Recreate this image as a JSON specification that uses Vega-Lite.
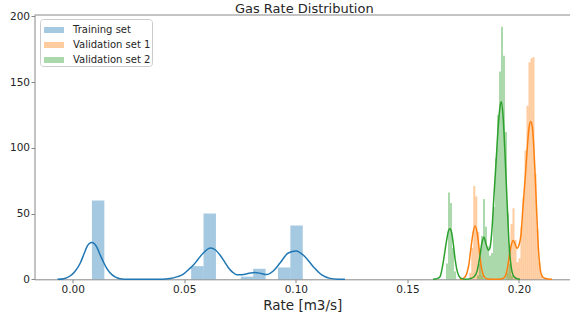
{
  "$schema": "https://vega.github.io/schema/vega-lite/v6.json",
  "width": 535.5,
  "height": 264.3,
  "autosize": {"type": "none"},
  "padding": {"left": 34.5, "top": 15, "right": 0, "bottom": 40.7},
  "background": "white",
  "title": {"text": "Gas Rate Distribution", "fontSize": 13, "font": "DejaVu Sans", "fontWeight": "normal", "color": "#262626", "anchor": "middle", "frame": "group", "baseline": "alphabetic", "offset": 0, "dx": 2, "dy": 15},
  "config": {
    "view": {"stroke": null},
    "axis": {"labelFont": "DejaVu Sans", "labelFontSize": 10.5, "labelColor": "#262626", "tickColor": "#888888", "domainColor": "#888888", "tickSize": 3.5, "labelPadding": 1.5, "grid": false, "domainWidth": 1, "tickWidth": 1}
  },
  "datasets": {
    "hist": [
      {"s": "Training set", "x0": 0.00862, "x1": 0.01418, "d": 60},
      {"s": "Training set", "x0": 0.05308, "x1": 0.05864, "d": 10},
      {"s": "Training set", "x0": 0.05864, "x1": 0.06419, "d": 50},
      {"s": "Training set", "x0": 0.07531, "x1": 0.08087, "d": 2},
      {"s": "Training set", "x0": 0.08087, "x1": 0.08643, "d": 8},
      {"s": "Training set", "x0": 0.09198, "x1": 0.09754, "d": 9},
      {"s": "Training set", "x0": 0.09754, "x1": 0.10310, "d": 41},
      {"s": "Validation set 1", "x0": 0.17773, "x1": 0.17862, "d": 5},
      {"s": "Validation set 1", "x0": 0.17862, "x1": 0.17952, "d": 24},
      {"s": "Validation set 1", "x0": 0.17952, "x1": 0.18042, "d": 71},
      {"s": "Validation set 1", "x0": 0.18042, "x1": 0.18131, "d": 63},
      {"s": "Validation set 1", "x0": 0.18131, "x1": 0.18221, "d": 36},
      {"s": "Validation set 1", "x0": 0.18221, "x1": 0.18310, "d": 12},
      {"s": "Validation set 1", "x0": 0.18310, "x1": 0.18400, "d": 3},
      {"s": "Validation set 1", "x0": 0.19440, "x1": 0.19530, "d": 5},
      {"s": "Validation set 1", "x0": 0.19530, "x1": 0.19619, "d": 22},
      {"s": "Validation set 1", "x0": 0.19619, "x1": 0.19709, "d": 42},
      {"s": "Validation set 1", "x0": 0.19709, "x1": 0.19798, "d": 54},
      {"s": "Validation set 1", "x0": 0.19798, "x1": 0.19888, "d": 30},
      {"s": "Validation set 1", "x0": 0.19888, "x1": 0.19978, "d": 13},
      {"s": "Validation set 1", "x0": 0.19978, "x1": 0.20067, "d": 16},
      {"s": "Validation set 1", "x0": 0.20067, "x1": 0.20157, "d": 40},
      {"s": "Validation set 1", "x0": 0.20157, "x1": 0.20246, "d": 62},
      {"s": "Validation set 1", "x0": 0.20246, "x1": 0.20336, "d": 98},
      {"s": "Validation set 1", "x0": 0.20336, "x1": 0.20426, "d": 132},
      {"s": "Validation set 1", "x0": 0.20426, "x1": 0.20515, "d": 165},
      {"s": "Validation set 1", "x0": 0.20515, "x1": 0.20605, "d": 168},
      {"s": "Validation set 1", "x0": 0.20605, "x1": 0.20694, "d": 169},
      {"s": "Validation set 1", "x0": 0.20694, "x1": 0.20784, "d": 80},
      {"s": "Validation set 1", "x0": 0.20784, "x1": 0.20873, "d": 38},
      {"s": "Validation set 1", "x0": 0.20873, "x1": 0.20963, "d": 13},
      {"s": "Validation set 1", "x0": 0.20963, "x1": 0.21052, "d": 3},
      {"s": "Validation set 2", "x0": 0.16729, "x1": 0.16819, "d": 12},
      {"s": "Validation set 2", "x0": 0.16819, "x1": 0.16908, "d": 66},
      {"s": "Validation set 2", "x0": 0.16908, "x1": 0.16998, "d": 58},
      {"s": "Validation set 2", "x0": 0.16998, "x1": 0.17087, "d": 24},
      {"s": "Validation set 2", "x0": 0.17087, "x1": 0.17177, "d": 6},
      {"s": "Validation set 2", "x0": 0.18118, "x1": 0.18207, "d": 3},
      {"s": "Validation set 2", "x0": 0.18207, "x1": 0.18297, "d": 12},
      {"s": "Validation set 2", "x0": 0.18297, "x1": 0.18387, "d": 33},
      {"s": "Validation set 2", "x0": 0.18387, "x1": 0.18476, "d": 61},
      {"s": "Validation set 2", "x0": 0.18476, "x1": 0.18566, "d": 40},
      {"s": "Validation set 2", "x0": 0.18566, "x1": 0.18655, "d": 25},
      {"s": "Validation set 2", "x0": 0.18655, "x1": 0.18745, "d": 18},
      {"s": "Validation set 2", "x0": 0.18745, "x1": 0.18835, "d": 20},
      {"s": "Validation set 2", "x0": 0.18835, "x1": 0.18924, "d": 55},
      {"s": "Validation set 2", "x0": 0.18924, "x1": 0.19014, "d": 92},
      {"s": "Validation set 2", "x0": 0.19014, "x1": 0.19104, "d": 125},
      {"s": "Validation set 2", "x0": 0.19104, "x1": 0.19193, "d": 158},
      {"s": "Validation set 2", "x0": 0.19193, "x1": 0.19283, "d": 192},
      {"s": "Validation set 2", "x0": 0.19283, "x1": 0.19373, "d": 170},
      {"s": "Validation set 2", "x0": 0.19373, "x1": 0.19462, "d": 112},
      {"s": "Validation set 2", "x0": 0.19462, "x1": 0.19552, "d": 50},
      {"s": "Validation set 2", "x0": 0.19552, "x1": 0.19641, "d": 12},
      {"s": "Validation set 2", "x0": 0.19641, "x1": 0.19731, "d": 3}
    ],
    "kde": [
      {"s": "Training set", "x": -0.0068, "d": 0},
      {"s": "Training set", "x": -0.0040, "d": 0.5},
      {"s": "Training set", "x": -0.0012, "d": 2.5},
      {"s": "Training set", "x": 0.0010, "d": 6},
      {"s": "Training set", "x": 0.0033, "d": 12},
      {"s": "Training set", "x": 0.0050, "d": 19},
      {"s": "Training set", "x": 0.0063, "d": 24.5},
      {"s": "Training set", "x": 0.0085, "d": 28},
      {"s": "Training set", "x": 0.0108, "d": 24.5},
      {"s": "Training set", "x": 0.0122, "d": 19},
      {"s": "Training set", "x": 0.0137, "d": 13.4},
      {"s": "Training set", "x": 0.0152, "d": 8.5},
      {"s": "Training set", "x": 0.0167, "d": 5},
      {"s": "Training set", "x": 0.0190, "d": 1.8},
      {"s": "Training set", "x": 0.0212, "d": 0.5},
      {"s": "Training set", "x": 0.0250, "d": 0.05},
      {"s": "Training set", "x": 0.0300, "d": 0},
      {"s": "Training set", "x": 0.0400, "d": 0},
      {"s": "Training set", "x": 0.0437, "d": 0.6},
      {"s": "Training set", "x": 0.0470, "d": 2},
      {"s": "Training set", "x": 0.0496, "d": 4},
      {"s": "Training set", "x": 0.0520, "d": 7.5},
      {"s": "Training set", "x": 0.0540, "d": 10.6},
      {"s": "Training set", "x": 0.0563, "d": 15.5},
      {"s": "Training set", "x": 0.0585, "d": 20},
      {"s": "Training set", "x": 0.0618, "d": 23.8},
      {"s": "Training set", "x": 0.0640, "d": 22.3},
      {"s": "Training set", "x": 0.0660, "d": 18.5},
      {"s": "Training set", "x": 0.0680, "d": 13.5},
      {"s": "Training set", "x": 0.0697, "d": 9},
      {"s": "Training set", "x": 0.0716, "d": 5.5},
      {"s": "Training set", "x": 0.0735, "d": 3.5},
      {"s": "Training set", "x": 0.0758, "d": 3.5},
      {"s": "Training set", "x": 0.0790, "d": 4.6},
      {"s": "Training set", "x": 0.0817, "d": 5.2},
      {"s": "Training set", "x": 0.0845, "d": 4.4},
      {"s": "Training set", "x": 0.0869, "d": 3.6},
      {"s": "Training set", "x": 0.0900, "d": 6.5},
      {"s": "Training set", "x": 0.0929, "d": 12.4},
      {"s": "Training set", "x": 0.0966, "d": 20},
      {"s": "Training set", "x": 0.1001, "d": 21.5},
      {"s": "Training set", "x": 0.1041, "d": 17.2},
      {"s": "Training set", "x": 0.1078, "d": 9.6},
      {"s": "Training set", "x": 0.1116, "d": 3.3},
      {"s": "Training set", "x": 0.1153, "d": 0.7},
      {"s": "Training set", "x": 0.1190, "d": 0.05},
      {"s": "Training set", "x": 0.1220, "d": 0},
      {"s": "Validation set 1", "x": 0.17356, "d": 0},
      {"s": "Validation set 1", "x": 0.17491, "d": 0.5},
      {"s": "Validation set 1", "x": 0.17625, "d": 3},
      {"s": "Validation set 1", "x": 0.17760, "d": 12},
      {"s": "Validation set 1", "x": 0.17849, "d": 24},
      {"s": "Validation set 1", "x": 0.17939, "d": 35},
      {"s": "Validation set 1", "x": 0.18028, "d": 40.5},
      {"s": "Validation set 1", "x": 0.18118, "d": 36},
      {"s": "Validation set 1", "x": 0.18207, "d": 24},
      {"s": "Validation set 1", "x": 0.18297, "d": 11},
      {"s": "Validation set 1", "x": 0.18387, "d": 4},
      {"s": "Validation set 1", "x": 0.18476, "d": 1.2},
      {"s": "Validation set 1", "x": 0.18611, "d": 0.3},
      {"s": "Validation set 1", "x": 0.18925, "d": 0.1},
      {"s": "Validation set 1", "x": 0.19238, "d": 0.5},
      {"s": "Validation set 1", "x": 0.19373, "d": 2},
      {"s": "Validation set 1", "x": 0.19463, "d": 7},
      {"s": "Validation set 1", "x": 0.19552, "d": 16},
      {"s": "Validation set 1", "x": 0.19642, "d": 25},
      {"s": "Validation set 1", "x": 0.19732, "d": 29.5},
      {"s": "Validation set 1", "x": 0.19821, "d": 27},
      {"s": "Validation set 1", "x": 0.19911, "d": 23.5},
      {"s": "Validation set 1", "x": 0.20000, "d": 26},
      {"s": "Validation set 1", "x": 0.20090, "d": 34},
      {"s": "Validation set 1", "x": 0.20179, "d": 55},
      {"s": "Validation set 1", "x": 0.20269, "d": 75},
      {"s": "Validation set 1", "x": 0.20359, "d": 97},
      {"s": "Validation set 1", "x": 0.20448, "d": 115},
      {"s": "Validation set 1", "x": 0.20524, "d": 120},
      {"s": "Validation set 1", "x": 0.20605, "d": 115},
      {"s": "Validation set 1", "x": 0.20672, "d": 98},
      {"s": "Validation set 1", "x": 0.20717, "d": 82},
      {"s": "Validation set 1", "x": 0.20784, "d": 55},
      {"s": "Validation set 1", "x": 0.20865, "d": 25},
      {"s": "Validation set 1", "x": 0.20941, "d": 9},
      {"s": "Validation set 1", "x": 0.21017, "d": 3},
      {"s": "Validation set 1", "x": 0.21120, "d": 1},
      {"s": "Validation set 1", "x": 0.21300, "d": 0.3},
      {"s": "Validation set 1", "x": 0.21479, "d": 0},
      {"s": "Validation set 2", "x": 0.16146, "d": 0},
      {"s": "Validation set 2", "x": 0.16325, "d": 0.5},
      {"s": "Validation set 2", "x": 0.16460, "d": 2},
      {"s": "Validation set 2", "x": 0.16594, "d": 12},
      {"s": "Validation set 2", "x": 0.16760, "d": 30},
      {"s": "Validation set 2", "x": 0.16841, "d": 37},
      {"s": "Validation set 2", "x": 0.16908, "d": 38.5},
      {"s": "Validation set 2", "x": 0.16975, "d": 36},
      {"s": "Validation set 2", "x": 0.17056, "d": 27},
      {"s": "Validation set 2", "x": 0.17132, "d": 16},
      {"s": "Validation set 2", "x": 0.17208, "d": 8},
      {"s": "Validation set 2", "x": 0.17311, "d": 2.5},
      {"s": "Validation set 2", "x": 0.17446, "d": 0.5},
      {"s": "Validation set 2", "x": 0.17625, "d": 0},
      {"s": "Validation set 2", "x": 0.17804, "d": 0.5},
      {"s": "Validation set 2", "x": 0.17984, "d": 2},
      {"s": "Validation set 2", "x": 0.18118, "d": 6},
      {"s": "Validation set 2", "x": 0.18252, "d": 18},
      {"s": "Validation set 2", "x": 0.18342, "d": 28},
      {"s": "Validation set 2", "x": 0.18432, "d": 32},
      {"s": "Validation set 2", "x": 0.18521, "d": 27},
      {"s": "Validation set 2", "x": 0.18633, "d": 22},
      {"s": "Validation set 2", "x": 0.18700, "d": 24},
      {"s": "Validation set 2", "x": 0.18790, "d": 38},
      {"s": "Validation set 2", "x": 0.18880, "d": 64},
      {"s": "Validation set 2", "x": 0.18969, "d": 88},
      {"s": "Validation set 2", "x": 0.19072, "d": 117},
      {"s": "Validation set 2", "x": 0.19149, "d": 131},
      {"s": "Validation set 2", "x": 0.19207, "d": 135},
      {"s": "Validation set 2", "x": 0.19283, "d": 125},
      {"s": "Validation set 2", "x": 0.19328, "d": 112},
      {"s": "Validation set 2", "x": 0.19449, "d": 66},
      {"s": "Validation set 2", "x": 0.19552, "d": 28},
      {"s": "Validation set 2", "x": 0.19673, "d": 7},
      {"s": "Validation set 2", "x": 0.19776, "d": 2},
      {"s": "Validation set 2", "x": 0.19911, "d": 0.5},
      {"s": "Validation set 2", "x": 0.20045, "d": 0}
    ]
  },
  "layer": [
    {
      "data": {"name": "hist"},
      "mark": {"type": "rect", "opacity": 0.4},
      "encoding": {
        "x": {"field": "x0", "type": "quantitative", "scale": {"domain": [-0.01712, 0.22286], "nice": false, "zero": false}, "axis": {"values": [0, 0.05, 0.1, 0.15, 0.2], "format": ".2f", "title": "Rate [m3/s]", "titleFont": "DejaVu Sans", "titleFontSize": 13.5, "titleFontWeight": "normal", "titleColor": "#262626", "titleBaseline": "alphabetic", "titleY": 30, "labelFlush": false}},
        "x2": {"field": "x1"},
        "y": {"field": "d", "type": "quantitative", "scale": {"domain": [0, 201], "nice": false}, "axis": {"values": [0, 25, 50, 75, 100, 125, 150, 175, 200], "title": null}},
        "y2": {"datum": 0},
        "color": {"field": "s", "type": "nominal", "scale": {"domain": ["Training set", "Validation set 1", "Validation set 2"], "range": ["#1f77b4", "#ff7f0e", "#2ca02c"]}, "legend": {"title": null, "orient": "none", "legendX": 5.5, "legendY": 4, "symbolType": "M-1,-0.3L1,-0.3L1,0.3L-1,0.3Z", "symbolSize": 400, "symbolOpacity": 0.4, "symbolStrokeWidth": 0, "symbolOffset": 3, "labelFont": "DejaVu Sans", "labelFontSize": 10, "labelColor": "#262626", "labelOffset": 9, "padding": 1, "rowPadding": 0, "strokeColor": "#cccccc", "fillColor": "white", "cornerRadius": 3}}
      }
    },
    {
      "data": {"name": "kde"},
      "mark": {"type": "line", "interpolate": "monotone", "strokeWidth": 1.5},
      "encoding": {
        "x": {"field": "x", "type": "quantitative"},
        "y": {"field": "d", "type": "quantitative"},
        "stroke": {"field": "s", "type": "nominal", "scale": {"domain": ["Training set", "Validation set 1", "Validation set 2"], "range": ["#1f77b4", "#ff7f0e", "#2ca02c"]}, "legend": null}
      }
    },
    {
      "data": {"values": [{}]},
      "mark": {"type": "rule", "color": "#888888", "strokeWidth": 1},
      "encoding": {"y": {"datum": 201}}
    }
  ]
}
